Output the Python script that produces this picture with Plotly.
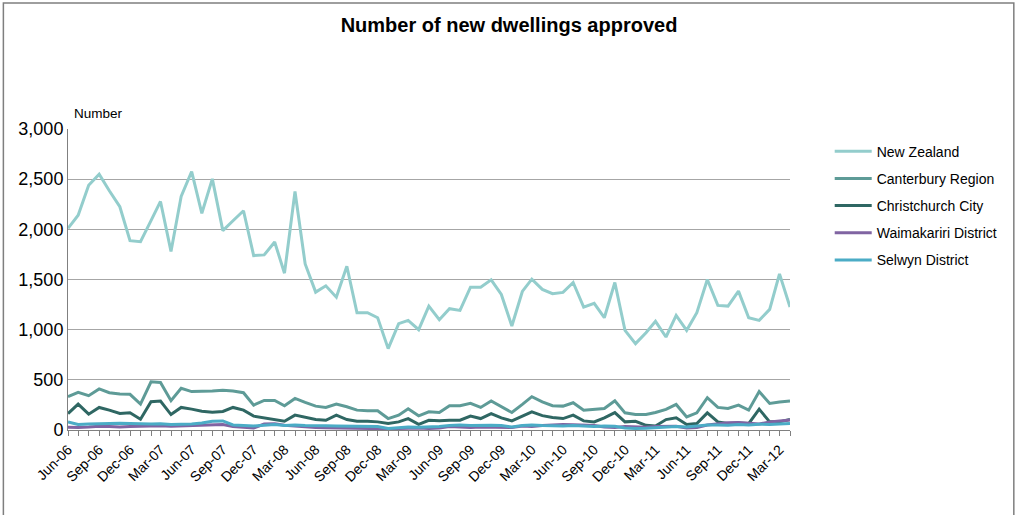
import plotly.graph_objects as go
import pandas as pd

months = pd.date_range("2006-06-01", "2012-04-01", freq="MS")

new_zealand = [2010, 2140, 2440, 2550, 2385, 2225, 1887, 1877, 2086, 2278, 1780, 2328,
               2576, 2160, 2503, 1987, 2086, 2185, 1738, 1745, 1874, 1563, 2377, 1655,
               1374, 1437, 1324, 1632, 1169, 1169, 1119, 811, 1060, 1093, 1000, 1235,
               1099, 1209, 1192, 1424, 1424, 1497, 1351, 1036, 1381, 1503, 1401, 1358,
               1371, 1470, 1225, 1262, 1119, 1470, 993, 861, 970, 1083, 927, 1142,
               993, 1169, 1500, 1242, 1235, 1384, 1119, 1093, 1202, 1556, 1225]
canterbury = [332, 376, 342, 409, 372, 359, 356, 258, 480, 473, 292, 416,
              383, 383, 389, 396, 389, 372, 248, 295, 295, 242, 315, 275,
              238, 225, 258, 232, 198, 191, 191, 114, 148, 211, 141, 181,
              174, 242, 242, 265, 225, 289, 232, 174, 255, 332, 280, 242,
              238, 272, 198, 205, 215, 292, 171, 154, 154, 174, 205, 255,
              131, 171, 322, 225, 215, 248, 198, 383, 265, 279, 289]
christchurch = [164, 258, 158, 225, 198, 164, 171, 107, 282, 289, 154, 225,
                208, 188, 178, 185, 225, 198, 138, 121, 107, 87, 148, 130,
                104, 97, 148, 104, 87, 87, 81, 64, 81, 114, 57, 97,
                91, 97, 97, 138, 114, 164, 121, 91, 138, 181, 143, 124,
                114, 148, 91, 81, 121, 174, 81, 87, 47, 40, 104, 121,
                54, 64, 171, 81, 64, 70, 64, 208, 81, 81, 104]
waimakariri = [28, 25, 30, 38, 35, 30, 35, 38, 40, 42, 38, 40,
               42, 45, 52, 55, 35, 25, 20, 60, 62, 48, 40, 30,
               25, 22, 20, 18, 15, 12, 10, 12, 15, 18, 20, 15,
               20, 35, 30, 25, 30, 28, 30, 25, 40, 35, 45, 50,
               55, 52, 50, 45, 30, 25, 35, 30, 28, 35, 40, 38,
               20, 25, 50, 65, 72, 75, 70, 60, 80, 90, 100]
selwyn = [80, 55, 60, 65, 68, 68, 66, 60, 60, 62, 55, 58,
          60, 70, 88, 90, 50, 45, 40, 48, 55, 45, 50, 45,
          40, 42, 40, 38, 40, 38, 35, 15, 25, 30, 28, 30,
          35, 45, 50, 45, 50, 48, 45, 30, 45, 50, 45, 42,
          40, 45, 38, 35, 40, 38, 20, 15, 18, 25, 30, 35,
          30, 40, 50, 50, 48, 55, 50, 58, 55, 60, 65]

series = [
    ("New Zealand", new_zealand, "#93CDCC"),
    ("Canterbury Region", canterbury, "#5E9B97"),
    ("Christchurch City", christchurch, "#2F6763"),
    ("Waimakariri District", waimakariri, "#8064A2"),
    ("Selwyn District", selwyn, "#4BACC6"),
]

FONT = "Liberation Sans, Arial, sans-serif"

fig = go.Figure()
for name, vals, col in series:
    fig.add_trace(go.Scatter(x=months, y=vals, mode="lines", name=name,
                             legendgroup=name,
                             line=dict(color=col, width=3)))

fig.update_layout(
    width=1018, height=515,
    margin=dict(l=68, r=228, t=129, b=85),
    paper_bgcolor="white", plot_bgcolor="white",
    font=dict(family=FONT, color="#000000"),
    title=dict(text="<b>Number of new dwellings approved</b>", x=0.5, xanchor="center",
               y=0.952, yanchor="middle", font=dict(size=20, family=FONT, color="#000")),
    showlegend=True,
    legend=dict(x=1.055, y=0.978, xanchor="left", yanchor="top",
                font=dict(size=14, family=FONT, color="#000"),
                itemwidth=37,
                tracegroupgap=6, bgcolor="rgba(0,0,0,0)"),
    xaxis=dict(
        type="date",
        range=[months[0], months[-1]],
        tickformat="%b-%y", dtick="M3", tick0="2006-06-01",
        tickangle=-45,
        ticks="outside", ticklen=5, tickcolor="#808080",
        minor=dict(dtick="M1", ticks="outside", ticklen=5, tickcolor="#808080"),
        showgrid=False, showline=True, linecolor="#808080", linewidth=1,
        tickfont=dict(size=14, family=FONT, color="#000"),
    ),
    yaxis=dict(
        range=[0, 3000], dtick=500, tickformat=",",
        showgrid=True, gridcolor="#A6A6A6", gridwidth=1,
        showline=True, linecolor="#808080", linewidth=1,
        ticks="", zeroline=False,
        tickfont=dict(size=18, family=FONT, color="#000"),
    ),
    annotations=[dict(text="Number", xref="paper", yref="paper", x=0.006, y=1.02,
                      xanchor="left", yanchor="bottom", showarrow=False,
                      font=dict(size=13.5, family=FONT, color="#000"))],
    shapes=[dict(type="rect", xref="paper", yref="paper",
                 x0=-0.0895, x1=1.310, y0=-0.3, y1=1.4186,
                 line=dict(color="#7F7F7F", width=1.5), layer="below")],
)

fig.write_html("out.html", config={"displayModeBar": False},
               post_script="document.body.style.margin='0';")
